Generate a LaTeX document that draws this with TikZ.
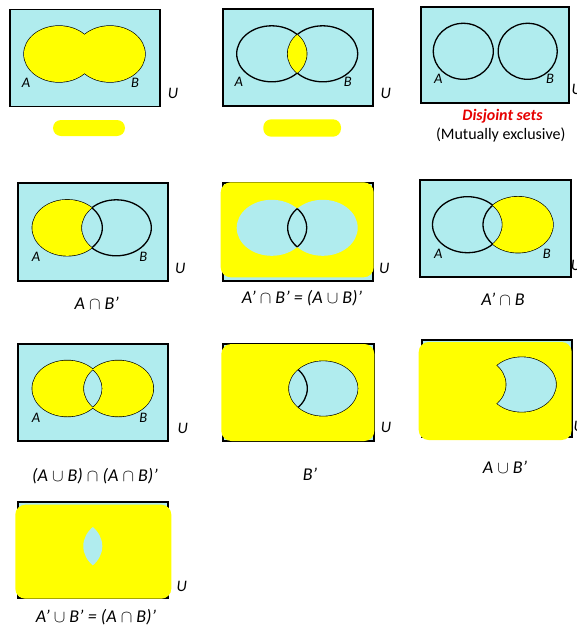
\documentclass[tikz,border=0pt]{standalone}
\usepackage{fontspec}
\setmainfont{Carlito}
\definecolor{venncyan}{RGB}{176,236,238}
\definecolor{hlyellow}{RGB}{255,255,0}
\definecolor{djred}{RGB}{230,0,0}

\begin{document}
\begin{tikzpicture}[x=1pt, y=-1pt,
		box/.style={fill=venncyan, draw=black, line width=1.8pt},
		ring/.style={draw=black, line width=1.3pt},
		oval/.style={x radius=35, y radius=28},
		hl/.style={fill=hlyellow},
		setlbl/.style={font=\fontsize{14.5}{14.5}\selectfont\itshape, inner sep=0pt},
		ulbl/.style={font=\fontsize{16}{16}\selectfont\itshape, inner sep=0pt},
		capt/.style={font=\fontsize{18}{18}\selectfont\itshape, inner sep=0pt}]
	
	\useasboundingbox (0,0) rectangle (576,632);
	
	% A union B
	\begin{scope}[shift={(10,9.5)}]
		\draw[box] (0,0) rectangle (150,97);
		\coordinate (cA) at (49,44.5);
		\coordinate (cB) at (100,44.5);
		\draw[ring] (cA) ellipse [oval];
		\draw[ring] (cB) ellipse [oval];
		\fill[hl] (cA) ellipse [oval] (cB) ellipse [oval];
		\node[setlbl] (a1) at (16,73) {A};
		\node[setlbl] (b1) at (125,73) {B};
		\node[ulbl] (u1) at (163,84) {U};
		\fill[hl, rounded corners=8pt] (43,110.5) rectangle (115,126.5);
	\end{scope}
	
	% A intersect B
	\begin{scope}[shift={(222.7,9.3)}]
		\draw[box] (0,0) rectangle (150,97);
		\coordinate (cA) at (49,44.5);
		\coordinate (cB) at (100,44.5);
		\draw[ring] (cA) ellipse [oval];
		\draw[ring] (cB) ellipse [oval];
		\begin{scope}
			\clip (cA) ellipse [oval];
			\fill[hl] (cB) ellipse [oval];
		\end{scope}
		\node[setlbl] (a2) at (16,73) {A};
		\node[setlbl] (b2) at (125,73) {B};
		\node[ulbl] (u2) at (163,84) {U};
		\fill[hl, rounded corners=8pt] (40.6,110) rectangle (118.3,127.4);
	\end{scope}
	
	% disjoint
	\begin{scope}[shift={(420.7,7.3)}]
		\draw[box] (0,0) rectangle (148.6,95.4);
		\coordinate (cA) at (42.6,44);
		\coordinate (cB) at (107,44);
		\draw[ring] (cA) ellipse [x radius=30, y radius=28];
		\draw[ring] (cB) ellipse [x radius=29.5, y radius=28];
		\node[setlbl] (a3) at (17.6,72) {A};
		\node[setlbl] (b3) at (129.3,72) {B};
		\node[ulbl] (u3) at (156,82) {U};
		\node[font=\fontsize{16}{16}\selectfont\bfseries\itshape, text=djred] (dj) at (81.8,108.7) {Disjoint sets};
		\node[font=\fontsize{16}{16}\selectfont] (mx) at (80.1,127.7) {(Mutually exclusive)};
	\end{scope}
	
	% A minus B
	\begin{scope}[shift={(18.3,183.3)}]
		\draw[box] (0,0) rectangle (149.4,97.7);
		\coordinate (cA) at (49,44.5);
		\coordinate (cB) at (98,44.5);
		\draw[ring] (cA) ellipse [oval];
		\draw[ring] (cB) ellipse [oval];
		\begin{scope}
			\clip (cA) ellipse [oval];
			\fill[hl, even odd rule] (0,0) rectangle (150,97) (cB) ellipse [oval];
		\end{scope}
		\node[setlbl] (a4) at (17.7,74) {A};
		\node[setlbl] (b4) at (125,74) {B};
		\node[ulbl] (u4) at (162,85) {U};
		\node[capt] (cap4) at (78.4,119.7) {A~$\cap$~B’};
	\end{scope}
	
	% complement of A union B
	\begin{scope}[shift={(222.7,183.3)}]
		\draw[box] (0,0) rectangle (150.6,97.4);
		\coordinate (cA) at (49,44.5);
		\coordinate (cB) at (100,44.5);
		\fill[hl, rounded corners=10pt] (-2,-1) rectangle (151,94);
		\fill[venncyan] (cA) ellipse [oval] (cB) ellipse [oval];
		\begin{scope}
			\clip (cA) ellipse [oval];
			\draw[ring] (cB) ellipse [oval];
		\end{scope}
		\begin{scope}
			\clip (cB) ellipse [oval];
			\draw[ring] (cA) ellipse [oval];
		\end{scope}
		\node[ulbl] (u5) at (161.6,85) {U};
		\node[capt] (cap5) at (79.3,114.4) {A’~$\cap$~B’ = (A~$\cup$~B)’};
	\end{scope}
	
	% B minus A
	\begin{scope}[shift={(420,180)}]
		\draw[box] (0,0) rectangle (150.7,97.3);
		\coordinate (cA) at (47.5,44.7);
		\coordinate (cB) at (98,44.7);
		\draw[ring] (cA) ellipse [oval];
		\draw[ring] (cB) ellipse [oval];
		\begin{scope}
			\clip (cB) ellipse [oval];
			\fill[hl, even odd rule] (0,0) rectangle (150,97) (cA) ellipse [oval];
		\end{scope}
		\node[setlbl] (a6) at (18.3,74) {A};
		\node[setlbl] (b6) at (126.7,74) {B};
		\node[ulbl] (u6) at (156,85) {U};
		\node[capt] (cap6) at (83,119) {A’~$\cap$~B};
	\end{scope}
	
	% symmetric difference
	\begin{scope}[shift={(18.3,344)}]
		\draw[box] (0,0) rectangle (149.4,97);
		\coordinate (cA) at (49,44.5);
		\coordinate (cB) at (100,44.5);
		\draw[ring] (cA) ellipse [oval];
		\draw[ring] (cB) ellipse [oval];
		\fill[hl, even odd rule] (cA) ellipse [oval] (cB) ellipse [oval];
		\node[setlbl] (a7) at (17.7,74) {A};
		\node[setlbl] (b7) at (125,74) {B};
		\node[ulbl] (u7) at (164.4,84.3) {U};
		\node[capt] (cap7) at (76.7,131.7) {(A~$\cup$~B)~$\cap$~(A~$\cap$~B)’};
	\end{scope}
	
	% complement of B
	\begin{scope}[shift={(223.3,344)}]
		\draw[box] (0,0) rectangle (150.7,97);
		\coordinate (cA) at (49,44.5);
		\coordinate (cB) at (100,44.5);
		\draw[ring] (cA) ellipse [oval];
		\draw[ring] (cB) ellipse [oval];
		\fill[hl, even odd rule] [rounded corners=10pt] (-2,0) rectangle (151,97) [sharp corners] (cB) ellipse [oval];
		\node[ulbl] (u8) at (162.7,83) {U};
		\node[capt] (cap8) at (86.7,130) {B’};
	\end{scope}
	
	% A union complement of B
	\begin{scope}[shift={(421.7,340)}]
		\draw[box] (0,0) rectangle (150,97.3);
		\coordinate (cA) at (49,44.5);
		\coordinate (cB) at (100,44.5);
		\draw[ring] (cA) ellipse [oval];
		\draw[ring] (cB) ellipse [oval];
		\fill[hl, even odd rule] [rounded corners=10pt] (-3,2) rectangle (150,100) [sharp corners] (cB) ellipse [oval];
		\fill[hl] (cA) ellipse [oval];
		\node[ulbl] (u9) at (157,86) {U};
		\node[capt] (cap9) at (83.3,127.3) {A~$\cup$~B’};
	\end{scope}
	
	% complement of A intersect B
	\begin{scope}[shift={(18.3,501.7)}]
		\draw[box] (0,0) rectangle (150,96.6);
		\coordinate (cA) at (49,44.5);
		\coordinate (cB) at (100,44.5);
		\fill[hl, rounded corners=10pt] (-3,3) rectangle (153,97);
		\begin{scope}
			\clip (cA) ellipse [oval];
			\fill[venncyan] (cB) ellipse [oval];
		\end{scope}
		\node[ulbl] (u10) at (163.4,84.3) {U};
		\node[capt] (cap10) at (77.7,115) {A’~$\cup$~B’ = (A~$\cap$~B)’};
	\end{scope}
	
\end{tikzpicture}
\end{document}
